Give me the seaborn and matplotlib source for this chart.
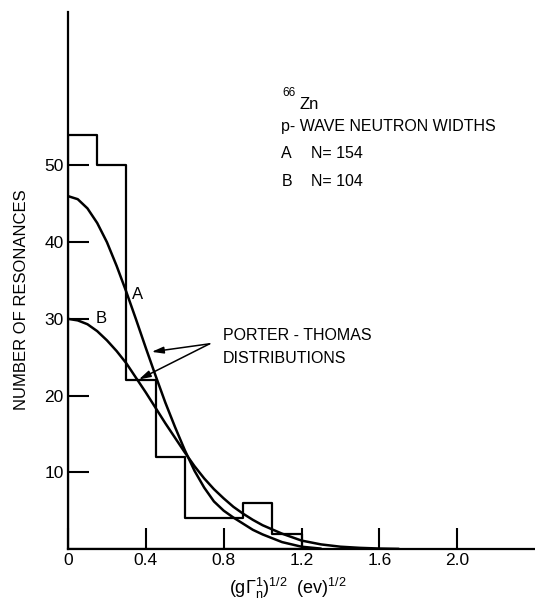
import numpy as np
import pandas as pd
import matplotlib
matplotlib.use("Agg")
import matplotlib.pyplot as plt
import seaborn as sns

# Histogram (bins of width 0.15)
bin_edges = [0.0, 0.15, 0.30, 0.45, 0.60, 0.75, 0.90, 1.05, 1.20]
counts = [54, 50, 22, 12, 4, 4, 6, 2]

# Porter-Thomas curves
curve_x_a = [0.0, 0.05, 0.10, 0.15, 0.20, 0.25, 0.30, 0.35, 0.40, 0.45, 0.50, 0.55,
             0.60, 0.65, 0.70, 0.75, 0.80, 0.85, 0.90, 0.95, 1.00, 1.10, 1.20, 1.30]
curve_y_a = [46.0, 45.6, 44.4, 42.5, 40.0, 36.9, 33.5, 29.9, 26.2, 22.6, 19.1, 15.9,
             12.9, 10.2, 8.0, 6.2, 5.0, 4.1, 3.3, 2.5, 1.9, 0.9, 0.3, 0.05]
curve_x_b = [0.0, 0.05, 0.10, 0.15, 0.20, 0.25, 0.30, 0.35, 0.40, 0.45, 0.50, 0.55,
             0.60, 0.65, 0.70, 0.75, 0.80, 0.85, 0.90, 0.95, 1.00, 1.10, 1.20, 1.30,
             1.40, 1.50, 1.60, 1.70]
curve_y_b = [30.0, 29.8, 29.3, 28.4, 27.2, 25.8, 24.2, 22.3, 20.4, 18.4, 16.4, 14.5,
             12.6, 10.8, 9.2, 7.8, 6.6, 5.5, 4.6, 3.8, 3.1, 2.0, 1.1, 0.6,
             0.3, 0.15, 0.06, 0.02]

x_ticks = [0, 0.4, 0.8, 1.2, 1.6, 2.0]
x_tick_labels = ["0", "0.4", "0.8", "1.2", "1.6", "2.0"]
y_ticks = [10, 20, 30, 40, 50]
y_tick_labels = ["10", "20", "30", "40", "50"]

sns.set_style("ticks")
plt.rcParams['font.family'] = ['Liberation Sans', 'DejaVu Sans']
plt.rcParams['text.color'] = 'black'
plt.rcParams['axes.labelcolor'] = 'black'
plt.rcParams['xtick.color'] = 'black'
plt.rcParams['ytick.color'] = 'black'
plt.rcParams['mathtext.fontset'] = 'custom'
plt.rcParams['mathtext.rm'] = 'Liberation Sans'
plt.rcParams['mathtext.it'] = 'Liberation Sans'

fig = plt.figure(figsize=(5.35, 6.02), dpi=100)
ax = fig.add_axes([68/535, 53/602, 467/535, 537/602])

centers = [(bin_edges[i] + bin_edges[i+1]) / 2 for i in range(len(counts))]
hist_df = pd.DataFrame({"x": centers, "w": counts})
sns.histplot(data=hist_df, x="x", weights="w", bins=bin_edges, element="step",
             fill=True, color="black", facecolor=(0, 0, 0, 0), edgecolor="black",
             linewidth=1.6, ax=ax)

sns.lineplot(x=curve_x_a, y=curve_y_a, color="black", linewidth=1.8, ax=ax, sort=True)
sns.lineplot(x=curve_x_b, y=curve_y_b, color="black", linewidth=1.8, ax=ax, sort=True)

ax.set_xlim(0, 2.4)
ax.set_ylim(0, 70)
ax.set_xticks(x_ticks)
ax.set_xticklabels(x_tick_labels)
ax.set_yticks(y_ticks)
ax.set_yticklabels(y_tick_labels)
ax.tick_params(direction="in", length=15, width=1.5, labelsize=12.5, pad=3,
               colors="black", labelcolor="black")
for s in ["top", "right"]:
    ax.spines[s].set_visible(False)
for s in ["left", "bottom"]:
    ax.spines[s].set_linewidth(1.6)
    ax.spines[s].set_color("black")

ax.set_ylabel("NUMBER OF RESONANCES", fontsize=12, va="center", color="black")
ax.yaxis.set_label_coords(-0.10, 0.464)
ax.set_xlabel(r"$(\mathrm{g}\Gamma_{\mathrm{n}}^{\mathrm{1}})^{1/2}$  (ev)$^{1/2}$",
              fontsize=13, va="center", color="black")
ax.xaxis.set_label_coords(0.471, -0.073)

tk = dict(color="black", ha="left", va="center")
ax.text(1.10, 59.5, "66", fontsize=8.5, **tk)
ax.text(1.19, 58.0, "Zn", fontsize=12, **tk)
ax.text(1.097, 55.1, "p- WAVE NEUTRON WIDTHS", fontsize=11.5, **tk)
ax.text(1.097, 51.5, "A", fontsize=11.5, **tk)
ax.text(1.251, 51.5, "N= 154", fontsize=11.5, **tk)
ax.text(1.097, 47.9, "B", fontsize=11.5, **tk)
ax.text(1.251, 47.9, "N= 104", fontsize=11.5, **tk)

ax.text(0.359, 33.2, "A", fontsize=12, color="black", ha="center", va="center")
ax.text(0.169, 30.1, "B", fontsize=12, color="black", ha="center", va="center")

ax.text(0.795, 27.8, "PORTER - THOMAS", fontsize=11.5, **tk)
ax.text(0.795, 24.8, "DISTRIBUTIONS", fontsize=11.5, **tk)
arrow_kw = dict(arrowstyle="-|>,head_length=0.7,head_width=0.2", color="black", lw=1.1,
                shrinkA=0, shrinkB=0)
ax.annotate("", xy=(0.43, 25.7), xytext=(0.728, 26.75), arrowprops=arrow_kw)
ax.annotate("", xy=(0.364, 22.1), xytext=(0.728, 26.75), arrowprops=arrow_kw)

fig.savefig("out.png", dpi=100)
